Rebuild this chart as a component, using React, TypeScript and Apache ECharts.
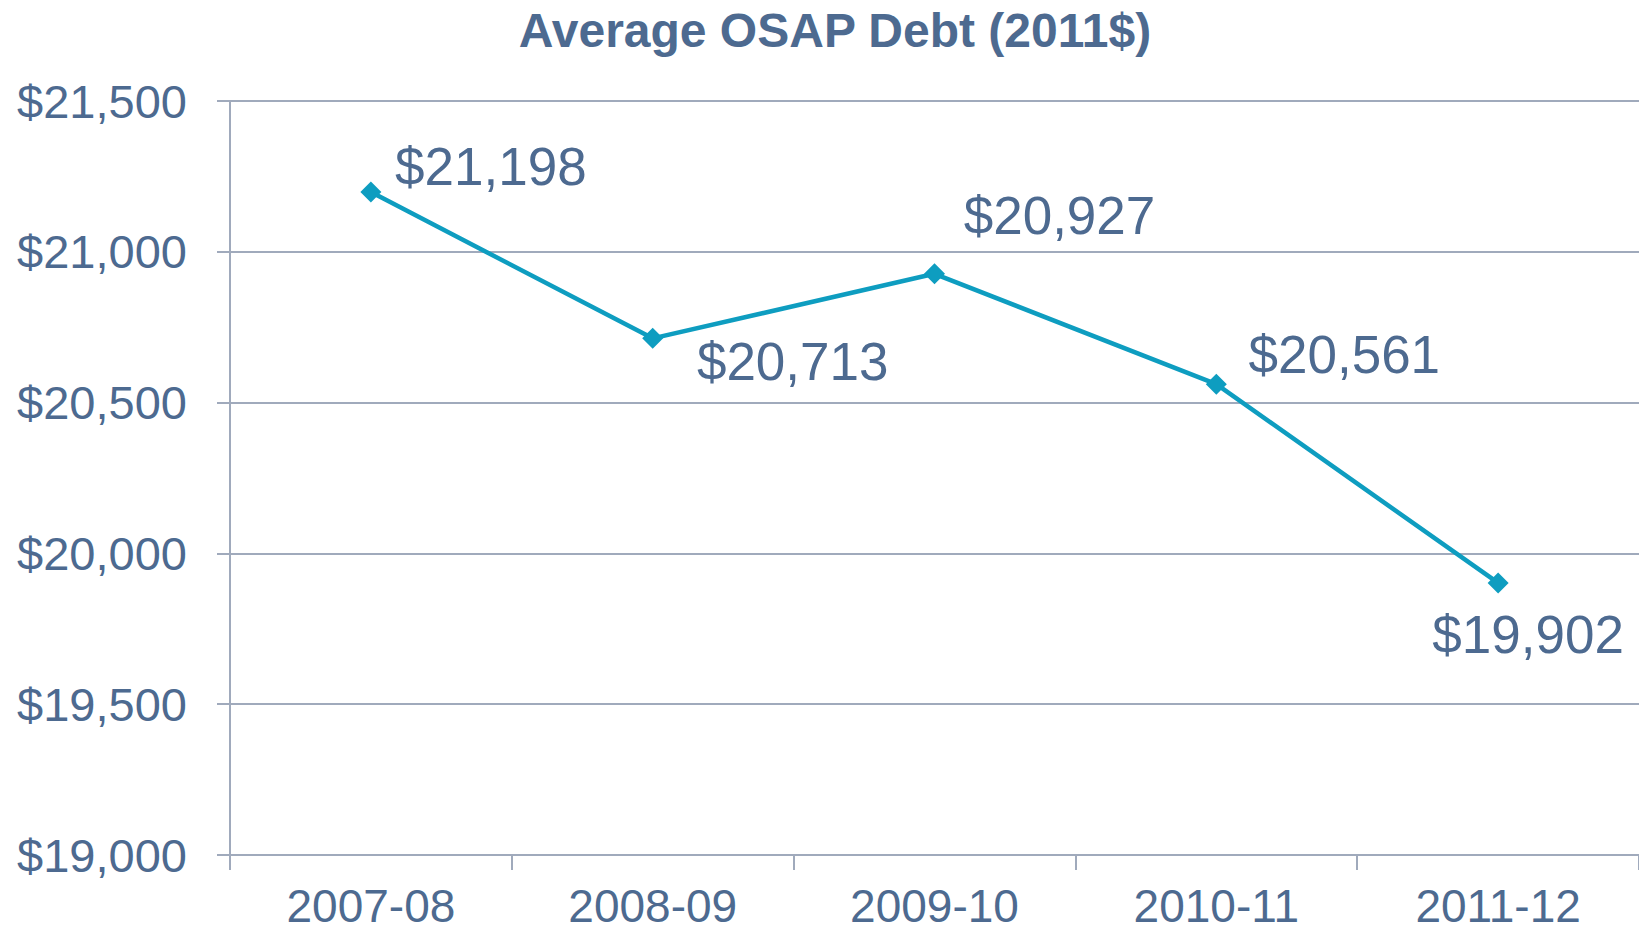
import React, { useEffect, useRef } from "react";
import * as echarts from "echarts";

const categories = ["2007-08", "2008-09", "2009-10", "2010-11", "2011-12"];
const debtValues = [21198, 20713, 20927, 20561, 19902];
const yTicks = { min: 19000, max: 21500, interval: 500 };
const titleText = "Average OSAP Debt (2011$)";

// label placement offsets (styling), per point
const labelOffsets: [number, number][] = [
  [120, -26],
  [140, 23],
  [125, -58],
  [128, -30],
  [30, 52],
];

const TEXT = "#4D6A90";
const LINE = "#0E9DC0";
const GRID = "#A0AABC";
const FONT = "'Liberation Sans', Arial, sans-serif";

const fmt = (v: number) => "$" + v.toLocaleString("en-US");

export default function App() {
  const ref = useRef<HTMLDivElement>(null);
  useEffect(() => {
    document.body.style.margin = "0";
    if (!ref.current) return;
    const chart = echarts.init(ref.current, undefined, { renderer: "svg" });
    chart.setOption({
      animation: false,
      backgroundColor: "#ffffff",
      textStyle: { fontFamily: FONT },
      title: {
        text: titleText,
        left: 835,
        textAlign: "center",
        top: 6,
        padding: 0,
        textStyle: { fontFamily: FONT, fontSize: 48, fontWeight: "bold", color: TEXT },
      },
      grid: { left: 230, right: 0, top: 101, bottom: 77, containLabel: false },
      xAxis: {
        type: "category",
        data: categories,
        boundaryGap: true,
        axisLine: { show: true, lineStyle: { color: GRID, width: 2 } },
        axisTick: { show: true, length: 15, lineStyle: { color: GRID, width: 2 } },
        axisLabel: { color: TEXT, fontSize: 46, lineHeight: 36, fontFamily: FONT, margin: 33 },
        splitLine: { show: false },
      },
      yAxis: {
        type: "value",
        min: yTicks.min,
        max: yTicks.max,
        interval: yTicks.interval,
        axisLine: { show: true, lineStyle: { color: GRID, width: 2 } },
        axisTick: { show: true, length: 13, lineStyle: { color: GRID, width: 2 } },
        axisLabel: {
          color: TEXT,
          fontSize: 47,
          fontFamily: FONT,
          margin: 43,
          formatter: (v: number) => fmt(v),
        },
        splitLine: { show: true, lineStyle: { color: GRID, width: 2 } },
      },
      series: [
        {
          type: "line",
          data: debtValues.map((v, i) => ({
            value: v,
            label: { offset: labelOffsets[i] },
          })),
          symbol: "diamond",
          symbolSize: 21,
          lineStyle: { color: LINE, width: 4.5 },
          itemStyle: { color: LINE },
          label: {
            show: true,
            position: "inside",
            align: "center",
            verticalAlign: "middle",
            color: TEXT,
            fontSize: 53,
            fontFamily: FONT,
            formatter: (p: any) => fmt(p.value),
          },
        },
      ],
    });
    return () => chart.dispose();
  }, []);
  return <div ref={ref} style={{ width: 1639, height: 932 }} />;
}
